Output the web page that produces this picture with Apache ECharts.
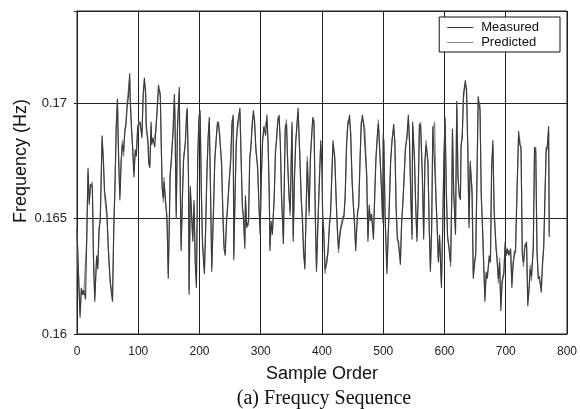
<!DOCTYPE html>
<html>
<head>
<meta charset="utf-8">
<script src="https://cdn.jsdelivr.net/npm/echarts@6/dist/echarts.min.js"></script>
<style>html,body{margin:0;padding:0;background:#fff}#c{width:580px;height:409px}</style>
</head>
<body>
<div id="c"></div>
<script>
const sampleOrder = [0,2,5,7,9,11,14,16,18,20,22,25,27,29,32,34,36,38,41,43,45,47,49,51,54,56,58,60,62,64,66,68,70,72,74,76,78,80,82,84,86,87,89,91,93,95,97,99,
101,103,106,108,110,112,113,116,117,119,121,122,124,127,129,131,133,136,137,139,141,142,144,147,149,151,152,154,157,159,160,162,164,167,168,170,172,174,177,179,180,182,183,185,188,189,191,193,195,197,199,
201,203,205,208,210,212,214,216,218,220,223,225,227,229,231,233,236,238,240,242,244,246,248,251,253,255,256,258,260,262,266,268,270,272,274,275,277,280,282,284,286,288,290,292,295,297,299,
301,303,305,308,310,312,314,315,317,319,322,324,326,328,330,332,334,337,338,340,342,344,346,348,351,353,355,357,359,361,364,366,368,370,372,374,376,379,381,383,385,387,389,391,393,396,398,400,
401,403,405,408,410,412,414,416,418,421,423,425,427,429,431,434,436,438,440,442,445,447,449,451,453,455,458,460,462,464,466,468,470,473,475,477,479,481,484,486,488,490,492,494,497,499,500,
501,503,506,508,510,512,514,517,519,521,523,525,528,530,532,534,536,539,541,543,545,547,548,551,553,555,557,559,561,564,566,568,570,573,575,577,579,581,584,586,588,590,592,595,597,599,601,
603,605,608,610,612,613,615,618,620,622,624,626,627,629,631,634,636,638,640,642,645,647,649,651,653,655,658,660,662,664,666,668,670,673,675,677,679,681,684,686,688,690,692,694,697,699,701,703,
705,708,710,712,714,716,718,721,723,725,727,729,731,734,736,738,740,742,745,747,749,751,753,755,758,760,762,764,766,768,770,771];

const measured = [0.1646,0.1630,0.1607,0.1620,0.1617,0.1619,0.1615,0.1643,0.1672,0.1656,0.1665,0.1664,0.1631,0.1614,0.1634,0.1628,0.1646,0.1649,0.1686,0.1675,0.1662,0.1658,0.1652,0.1637,0.1624,0.1618,0.1614,0.1646,0.1663,0.1690,0.1702,0.1675,0.1658,0.1675,0.1682,0.1679,0.1687,0.1692,0.1699,0.1703,0.1713,0.1700,0.1690,0.1679,0.1668,0.1680,0.1677,0.1690,
0.1690,0.1692,0.1685,0.1704,0.1711,0.1704,0.1691,0.1682,0.1675,0.1672,0.1692,0.1682,0.1685,0.1681,0.1690,0.1697,0.1708,0.1703,0.1690,0.1663,0.1659,0.1666,0.1660,0.1649,0.1624,0.1653,0.1668,0.1676,0.1688,0.1704,0.1692,0.1650,0.1690,0.1707,0.1676,0.1636,0.1659,0.1675,0.1684,0.1695,0.1698,0.1668,0.1617,0.1664,0.1646,0.1640,0.1658,0.1631,0.1620,0.1675,0.1694,
0.1697,0.1661,0.1638,0.1626,0.1646,0.1668,0.1685,0.1694,0.1661,0.1627,0.1656,0.1675,0.1684,0.1690,0.1692,0.1685,0.1675,0.1653,0.1637,0.1634,0.1649,0.1655,0.1665,0.1675,0.1692,0.1695,0.1632,0.1660,0.1682,0.1691,0.1698,0.1675,0.1656,0.1649,0.1637,0.1660,0.1646,0.1649,0.1675,0.1682,0.1690,0.1697,0.1691,0.1681,0.1671,0.1657,0.1643,
0.1669,0.1683,0.1690,0.1686,0.1695,0.1682,0.1660,0.1636,0.1649,0.1643,0.1660,0.1678,0.1686,0.1692,0.1695,0.1682,0.1660,0.1639,0.1658,0.1690,0.1691,0.1675,0.1660,0.1653,0.1692,0.1640,0.1668,0.1682,0.1691,0.1698,0.1675,0.1660,0.1649,0.1636,0.1628,0.1653,0.1675,0.1653,0.1675,0.1686,0.1694,0.1691,0.1653,0.1627,0.1646,0.1668,0.1684,0.1670,
0.1653,0.1643,0.1628,0.1631,0.1637,0.1646,0.1653,0.1668,0.1684,0.1675,0.1660,0.1645,0.1637,0.1642,0.1646,0.1649,0.1652,0.1660,0.1682,0.1690,0.1695,0.1685,0.1668,0.1656,0.1649,0.1636,0.1653,0.1655,0.1675,0.1690,0.1695,0.1691,0.1691,0.1668,0.1640,0.1656,0.1649,0.1652,0.1641,0.1660,0.1675,0.1685,0.1691,0.1682,0.1663,0.1650,0.1687,
0.1682,0.1652,0.1626,0.1643,0.1656,0.1675,0.1682,0.1691,0.1682,0.1656,0.1641,0.1640,0.1630,0.1649,0.1656,0.1668,0.1679,0.1687,0.1695,0.1682,0.1660,0.1641,0.1692,0.1675,0.1656,0.1640,0.1660,0.1691,0.1690,0.1668,0.1641,0.1675,0.1682,0.1675,0.1646,0.1627,0.1646,0.1690,0.1690,0.1660,0.1646,0.1631,0.1643,0.1620,0.1646,0.1675,0.1694,
0.1661,0.1643,0.1635,0.1631,0.1661,0.1689,0.1661,0.1643,0.1701,0.1668,0.1661,0.1658,0.1682,0.1685,0.1704,0.1710,0.1705,0.1682,0.1646,0.1675,0.1661,0.1624,0.1631,0.1634,0.1668,0.1703,0.1697,0.1661,0.1646,0.1631,0.1614,0.1627,0.1624,0.1634,0.1631,0.1673,0.1684,0.1653,0.1639,0.1631,0.1624,0.1631,0.1610,0.1623,0.1626,0.1640,0.1634,0.1637,
0.1634,0.1637,0.1620,0.1631,0.1634,0.1637,0.1657,0.1688,0.1682,0.1681,0.1634,0.1631,0.1637,0.1640,0.1612,0.1620,0.1628,0.1625,0.1637,0.1681,0.1679,0.1637,0.1624,0.1625,0.1618,0.1631,0.1637,0.1660,0.1679,0.1682,0.1690,0.1642];

const predicted = [0.1644,0.1628,0.1609,0.1618,0.1619,0.1617,0.1617,0.1641,0.1670,0.1658,0.1663,0.1666,0.1633,0.1616,0.1632,0.1630,0.1644,0.1651,0.1684,0.1677,0.1660,0.1660,0.1650,0.1639,0.1622,0.1620,0.1616,0.1644,0.1665,0.1688,0.1700,0.1677,0.1660,0.1673,0.1684,0.1677,0.1689,0.1690,0.1701,0.1701,0.1711,0.1702,0.1688,0.1681,0.1670,0.1678,0.1679,0.1688,
0.1692,0.1690,0.1687,0.1702,0.1709,0.1706,0.1689,0.1684,0.1673,0.1674,0.1690,0.1684,0.1683,0.1683,0.1688,0.1699,0.1706,0.1705,0.1688,0.1665,0.1657,0.1668,0.1658,0.1651,0.1626,0.1651,0.1670,0.1674,0.1690,0.1702,0.1694,0.1652,0.1688,0.1705,0.1678,0.1638,0.1657,0.1677,0.1682,0.1697,0.1696,0.1670,0.1619,0.1662,0.1648,0.1642,0.1656,0.1633,0.1622,0.1673,0.1692,
0.1695,0.1663,0.1640,0.1628,0.1644,0.1670,0.1683,0.1692,0.1663,0.1629,0.1654,0.1677,0.1682,0.1692,0.1690,0.1687,0.1673,0.1655,0.1639,0.1636,0.1647,0.1657,0.1663,0.1677,0.1690,0.1693,0.1634,0.1658,0.1684,0.1689,0.1696,0.1677,0.1654,0.1651,0.1639,0.1658,0.1648,0.1647,0.1677,0.1680,0.1692,0.1695,0.1693,0.1679,0.1673,0.1655,0.1645,
0.1667,0.1685,0.1688,0.1688,0.1693,0.1684,0.1658,0.1638,0.1647,0.1645,0.1658,0.1680,0.1684,0.1694,0.1693,0.1684,0.1658,0.1641,0.1656,0.1688,0.1693,0.1673,0.1662,0.1651,0.1690,0.1642,0.1666,0.1684,0.1689,0.1696,0.1677,0.1658,0.1651,0.1634,0.1630,0.1651,0.1677,0.1651,0.1677,0.1684,0.1692,0.1693,0.1651,0.1629,0.1644,0.1670,0.1682,0.1672,
0.1651,0.1645,0.1626,0.1633,0.1635,0.1648,0.1651,0.1670,0.1682,0.1677,0.1658,0.1647,0.1635,0.1644,0.1644,0.1651,0.1650,0.1662,0.1680,0.1692,0.1693,0.1687,0.1666,0.1658,0.1647,0.1638,0.1651,0.1657,0.1673,0.1692,0.1693,0.1693,0.1689,0.1670,0.1642,0.1654,0.1651,0.1650,0.1643,0.1658,0.1677,0.1683,0.1693,0.1680,0.1665,0.1648,0.1685,
0.1684,0.1650,0.1628,0.1641,0.1658,0.1673,0.1684,0.1689,0.1684,0.1654,0.1643,0.1638,0.1632,0.1647,0.1658,0.1666,0.1681,0.1685,0.1693,0.1684,0.1658,0.1643,0.1690,0.1677,0.1654,0.1642,0.1658,0.1689,0.1692,0.1666,0.1643,0.1673,0.1684,0.1673,0.1648,0.1629,0.1644,0.1688,0.1692,0.1658,0.1648,0.1633,0.1641,0.1622,0.1644,0.1677,0.1692,
0.1663,0.1641,0.1637,0.1629,0.1663,0.1687,0.1663,0.1645,0.1699,0.1670,0.1659,0.1660,0.1680,0.1687,0.1702,0.1708,0.1707,0.1680,0.1648,0.1673,0.1663,0.1626,0.1629,0.1636,0.1666,0.1701,0.1699,0.1659,0.1648,0.1629,0.1616,0.1625,0.1626,0.1632,0.1633,0.1671,0.1682,0.1655,0.1637,0.1633,0.1622,0.1633,0.1612,0.1621,0.1628,0.1638,0.1636,0.1635,
0.1636,0.1635,0.1622,0.1629,0.1636,0.1635,0.1659,0.1686,0.1684,0.1679,0.1636,0.1629,0.1639,0.1638,0.1614,0.1618,0.1630,0.1623,0.1639,0.1679,0.1681,0.1635,0.1626,0.1623,0.1620,0.1629,0.1639,0.1658,0.1681,0.1680,0.1688,0.1644];

const xTickValues = [0, 100, 200, 300, 400, 500, 600, 700, 800];
const yTickValues = [0.16, 0.165, 0.17];

const chart = echarts.init(document.getElementById('c'), null, {renderer: 'canvas'});
const FONT = 'Liberation Sans, Arial, sans-serif';
chart.setOption({
  animation: false,
  backgroundColor: '#fff',
  grid: {left: 77, right: 12, top: 11, bottom: 75, show: true, borderColor: '#222', borderWidth: 1, containLabel: false},
  legend: {
    right: 20, top: 17, orient: 'vertical', itemGap: 2,
    icon: 'rect', itemWidth: 26, itemHeight: 1,
    padding: [4, 21, 3, 8],
    borderColor: '#111', borderWidth: 1, backgroundColor: '#fff',
    textStyle: {fontFamily: FONT, fontSize: 13, color: '#111', padding: [0, 0, 0, 3]},
    data: ['Measured', 'Predicted']
  },
  xAxis: {
    type: 'value', min: 0, max: 800, interval: 100,
    axisLine: {show: true, lineStyle: {color: '#222', width: 1}},
    axisTick: {show: true, inside: true, length: 3, lineStyle: {color: '#222'}},
    splitLine: {show: true, lineStyle: {color: '#222', width: 1}},
    axisLabel: {fontFamily: FONT, fontSize: 12, color: '#222', margin: 12,
      formatter: v => xTickValues.includes(v) ? String(v) : ''},
    name: 'Sample Order', nameLocation: 'middle', nameGap: 31,
    nameTextStyle: {fontFamily: FONT, fontSize: 18, color: '#111'}
  },
  yAxis: {
    type: 'value', min: 0.16, max: 0.174, interval: 0.005,
    axisLine: {show: true, lineStyle: {color: '#222', width: 1}},
    axisTick: {show: true, length: 3, lineStyle: {color: '#222'}},
    splitLine: {show: true, lineStyle: {color: '#222', width: 1}},
    axisLabel: {fontFamily: FONT, fontSize: 13, color: '#222', margin: 10,
      formatter: v => {
        const hit = yTickValues.find(t => Math.abs(t - v) < 1e-6);
        return hit === undefined ? '' : String(hit);
      }}
  },
  graphic: [
    {type: 'text', x: 21, y: 161, rotation: Math.PI / 2,
     style: {text: 'Frequency (Hz)', font: '18px "Liberation Sans", Arial, sans-serif', fill: '#111', align: 'center', verticalAlign: 'middle'}},
    {type: 'text', x: 324, y: 399,
     style: {text: '(a) Frequcy Sequence', font: '20px "Liberation Serif", "Times New Roman", serif', fill: '#111', align: 'center', verticalAlign: 'middle'}}
  ],
  series: [
    {name: 'Predicted', type: 'line', symbol: 'none', data: sampleOrder.map((x, i) => [x, predicted[i]]),
     lineStyle: {color: '#858585', width: 1.2}, itemStyle: {color: '#858585'}, z: 2},
    {name: 'Measured', type: 'line', symbol: 'none', data: sampleOrder.map((x, i) => [x, measured[i]]),
     lineStyle: {color: '#3a3a3a', width: 1.1}, itemStyle: {color: '#3a3a3a'}, z: 3}
  ]
});
</script>
</body>
</html>
